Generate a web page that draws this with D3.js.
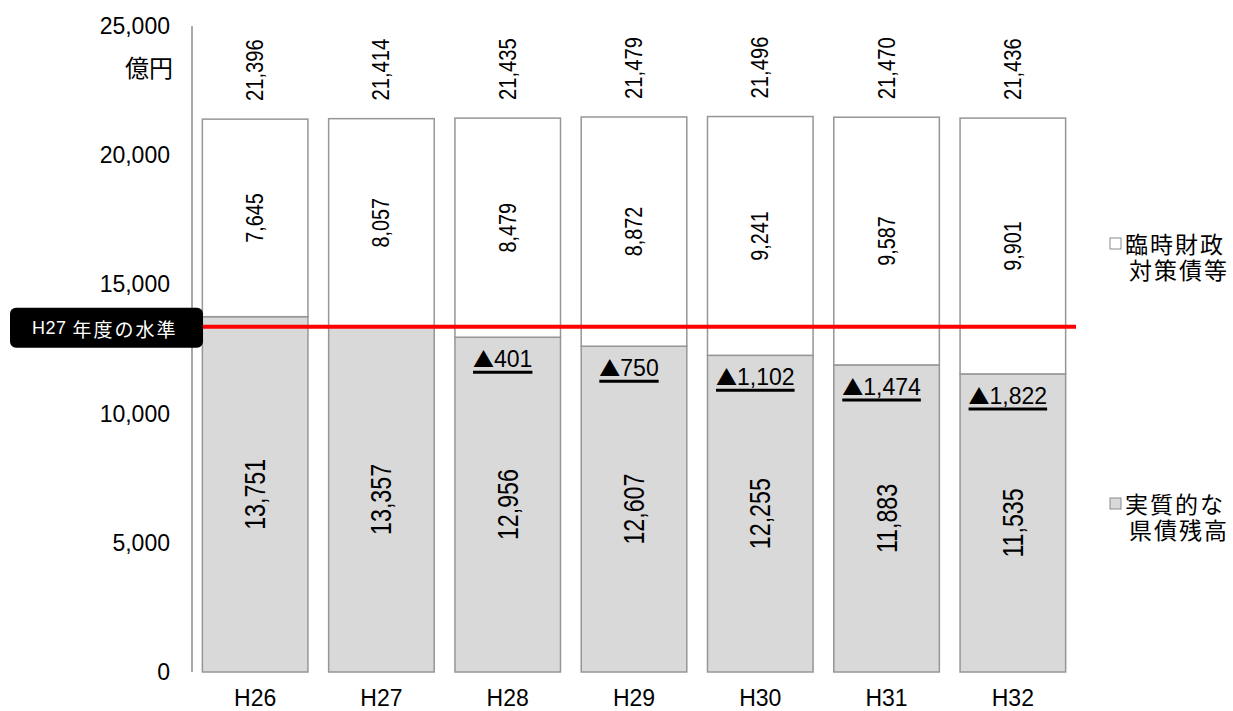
<!DOCTYPE html>
<meta charset="utf-8">
<script src="https://d3js.org/d3.v7.min.js"></script>
<style>
  body { margin: 0; background: #fff; }
  text { font-family: "Liberation Sans", Arial, "Noto Sans CJK JP", sans-serif; fill: #000; }
  .jp { font-family: "Noto Sans CJK JP", sans-serif; }
</style>
<body>
<div id="chart"></div>
<script>

var categories = ["H26", "H27", "H28", "H29", "H30", "H31", "H32"]
var realDebt   = [13751, 13357, 12956, 12607, 12255, 11883, 11535]
var tempDebt   = [7645, 8057, 8479, 8872, 9241, 9587, 9901]
var totals     = [21396, 21414, 21435, 21479, 21496, 21470, 21436]
var decrease   = [null, null, 401, 750, 1102, 1474, 1822]
var yTicks     = [0, 5000, 10000, 15000, 20000, 25000]
var baseYear   = 1   // index of H27, the reference level

var width = 1233,
    height = 711

var svg = d3.select("#chart")
  .append("svg")
    .attr("width", width)
    .attr("height", height)

var x = d3.scaleBand()
  .domain(categories)
  .range([192, 1076])
  .paddingInner(0.164)
  .paddingOuter(0.082)

var y = d3.scaleLinear()
  .domain([0, 25000])
  .range([672, 26])

var fmt = d3.format(",")

// y axis: plain line + labels
svg.append("line")
  .attr("x1", x.range()[0]).attr("x2", x.range()[0])
  .attr("y1", y(25000)).attr("y2", y(0))
  .attr("stroke", "#8c8c8c")
  .attr("stroke-width", 1.5)

svg.selectAll(".ytick")
  .data(yTicks)
  .enter()
  .append("text")
    .attr("x", 170)
    .attr("y", function(d) { return y(d) })
    .attr("text-anchor", "end")
    .attr("dominant-baseline", "central")
    .style("font-size", "23px")
    .text(function(d) { return fmt(d) })

svg.append("text")
  .attr("class", "jp")
  .attr("x", 173)
  .attr("y", 66)
  .attr("text-anchor", "end")
  .attr("dominant-baseline", "central")
  .style("font-size", "24px")
  .text("億円")

// x labels
svg.selectAll(".xlab")
  .data(categories)
  .enter()
  .append("text")
    .attr("x", function(d) { return x(d) + x.bandwidth() / 2 })
    .attr("y", 698)
    .attr("text-anchor", "middle")
    .attr("dominant-baseline", "central")
    .style("font-size", "23px")
    .text(function(d) { return d })

// bars
var bars = svg.selectAll(".bar")
  .data(categories)
  .enter()
  .append("g")

bars.append("rect")
  .attr("x", function(d) { return x(d) })
  .attr("width", x.bandwidth())
  .attr("y", function(d, i) { return y(realDebt[i]) })
  .attr("height", function(d, i) { return y(0) - y(realDebt[i]) })
  .attr("fill", "#d9d9d9")
  .attr("stroke", "#969696")
  .attr("stroke-width", 1.5)

bars.append("rect")
  .attr("x", function(d) { return x(d) })
  .attr("width", x.bandwidth())
  .attr("y", function(d, i) { return y(realDebt[i] + tempDebt[i]) })
  .attr("height", function(d, i) { return y(realDebt[i]) - y(realDebt[i] + tempDebt[i]) })
  .attr("fill", "#fff")
  .attr("stroke", "#969696")
  .attr("stroke-width", 1.5)

// rotated value label, glyphs narrowed a bit like the original font
function rotLabel(yFn, textFn, size, squeeze) {
  bars.append("text")
    .attr("transform", function(d, i) {
      return "translate(" + (x(d) + x.bandwidth() / 2) + "," + yFn(d, i) + ") rotate(-90)"
    })
    .attr("text-anchor", "middle")
    .attr("dominant-baseline", "central")
    .style("font-size", size)
    .text(textFn)
    .each(function() {
      var len = this.getComputedTextLength()
      d3.select(this)
        .attr("textLength", len * squeeze)
        .attr("lengthAdjust", "spacingAndGlyphs")
    })
}

rotLabel(function(d, i) { return (y(0) + y(realDebt[i])) / 2 },
         function(d, i) { return fmt(realDebt[i]) }, "29px", 0.8)

rotLabel(function(d, i) { return (y(realDebt[i]) + y(realDebt[i] + tempDebt[i])) / 2 },
         function(d, i) { return fmt(tempDebt[i]) }, "23px", 0.86)

rotLabel(function(d, i) { return y(totals[i]) - 49 },
         function(d, i) { return fmt(totals[i]) }, "23px", 0.88)

// H27 reference line
var refY = y(realDebt[baseYear])
svg.append("line")
  .attr("x1", 203).attr("x2", x.range()[1])
  .attr("y1", refY).attr("y2", refY)
  .attr("stroke", "#ff0000")
  .attr("stroke-width", 4)

svg.append("rect")
  .attr("x", 10).attr("y", refY - 19)
  .attr("width", 193).attr("height", 40)
  .attr("rx", 6)
  .attr("fill", "#000")

var lab = svg.append("text")
  .attr("x", 32)
  .attr("y", refY + 1)
  .attr("dominant-baseline", "central")
  .style("fill", "#fff")
lab.append("tspan")
  .style("font-size", "18px")
  .style("letter-spacing", "0.5px")
  .text("H27")
lab.append("tspan")
  .attr("class", "jp")
  .attr("dx", 6)
  .style("font-size", "19px")
  .style("letter-spacing", "2px")
  .text("年度の水準")

// decrease labels (underlined)
var dec = svg.selectAll(".dec")
  .data(categories.filter(function(d, i) { return decrease[i] != null }))
  .enter()
  .append("g")

dec.each(function(d) {
  var i = categories.indexOf(d)
  var g = d3.select(this)
  var cx = x(d) + x.bandwidth() / 2 - 5
  var by = y(realDebt[i]) + 30
  var t = g.append("text")
    .attr("x", cx)
    .attr("y", by)
    .attr("text-anchor", "middle")
    .style("font-size", "23px")
  t.append("tspan")
    .attr("class", "jp")
    .style("font-size", "21px")
    .text("▲")
  t.append("tspan")
    .text(fmt(decrease[i]))
  var w = t.node().getComputedTextLength()
  g.append("line")
    .attr("x1", cx - w / 2).attr("x2", cx + w / 2)
    .attr("y1", by + 5).attr("y2", by + 5)
    .attr("stroke", "#000")
    .attr("stroke-width", 3)
})

// legend
var legend = [
  {lines: ["臨時財政", "対策債等"], fill: "#fff", y: 243},
  {lines: ["実質的な", "県債残高"], fill: "#d9d9d9", y: 503}
]

legend.forEach(function(l) {
  svg.append("rect")
    .attr("x", 1110).attr("y", l.y - 5)
    .attr("width", 11).attr("height", 11)
    .attr("fill", l.fill)
    .attr("stroke", "#8c8c8c")
    .attr("stroke-width", 1)
  l.lines.forEach(function(s, k) {
    svg.append("text")
      .attr("class", "jp")
      .attr("x", k == 0 ? 1125 : 1129)
      .attr("y", l.y + k * 26)
      .attr("dominant-baseline", "central")
      .style("font-size", "23px")
      .style("letter-spacing", "2px")
      .text(s)
  })
})

</script>
</body>
